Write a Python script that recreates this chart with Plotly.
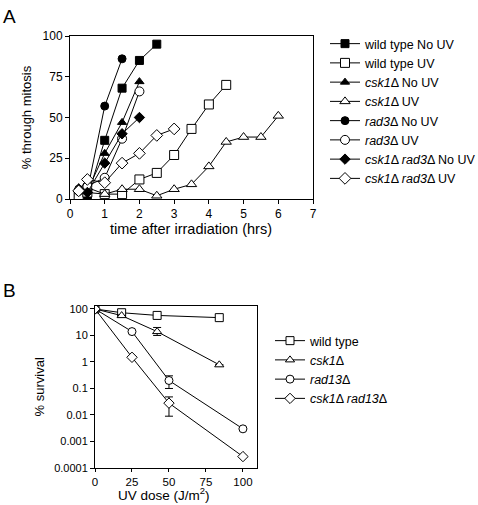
import plotly.graph_objects as go

# ---------------- Panel A data ----------------
wt_nouv_x = [0.25, 0.5, 1, 1.5, 2, 2.5]
wt_nouv_y = [4, 1, 36, 68, 85, 95]
wt_uv_x = [0.25, 0.5, 1, 1.5, 2, 2.5, 3, 3.5, 4, 4.5]
wt_uv_y = [2, 4, 3, 3, 12, 16, 27, 43, 58, 70]
csk1_nouv_x = [0.25, 0.5, 1, 1.5, 2]
csk1_nouv_y = [7, 5, 28, 47, 72]
csk1_uv_x = [0.25, 0.5, 1, 1.5, 2, 2.5, 3, 3.5, 4, 4.5, 5, 5.5, 6]
csk1_uv_y = [6, 7, 3, 6, 6, 2, 6, 9, 20, 35, 38, 38, 51]
rad3_nouv_x = [0.25, 0.5, 1, 1.5]
rad3_nouv_y = [6, 5, 57, 86]
rad3_uv_x = [0.25, 0.5, 1, 1.5, 2]
rad3_uv_y = [5, 8, 13, 37, 66]
dbl_nouv_x = [0.25, 0.5, 1, 1.5, 2]
dbl_nouv_y = [5, 4, 22, 40, 50]
dbl_uv_x = [0.25, 0.5, 1, 1.5, 2, 2.5, 3]
dbl_uv_y = [5, 12, 10, 22, 28, 39, 43]

# ---------------- Panel B data ----------------
wt_dose = [0, 18, 42, 84]
wt_surv = [100, 72, 57, 47]
csk1_dose = [0, 18, 42, 84]
csk1_surv = [100, 56, 14, 0.78]
csk1_err_plus = [0, 0, 6, 0]
csk1_err_minus = [0, 0, 4, 0]
rad13_dose = [0, 25, 50, 100]
rad13_surv = [100, 14, 0.2, 0.003]
rad13_err_plus = [0, 0, 0.1, 0]
rad13_err_minus = [0, 0, 0.1, 0]
dbl13_dose = [0, 25, 50, 100]
dbl13_surv = [100, 1.5, 0.028, 0.00027]
dbl13_err_plus = [0, 0, 0.02, 0]
dbl13_err_minus = [0, 0, 0.019, 0]

b_tickvals = [100, 10, 1, 0.1, 0.01, 0.001, 0.0001]
b_ticktext = ["100", "10", "1", "0.1", "0.01", "0.001", "0.0001"]

FONT = "Liberation Sans, Arial, Helvetica, sans-serif"
BLK = "black"

fig = go.Figure()

def add_a(x, y, name, symbol, filled):
    fig.add_trace(go.Scatter(
        x=x, y=y, name=name, mode="lines+markers",
        line=dict(color=BLK, width=1),
        marker=dict(symbol=symbol, size=9 if not filled else 8,
                    color=BLK if filled else "white",
                    line=dict(color=BLK, width=1)),
        xaxis="x", yaxis="y", legend="legend"))

add_a(wt_nouv_x, wt_nouv_y, "wild type No UV", "square", True)
add_a(wt_uv_x, wt_uv_y, "wild type UV", "square", False)
add_a(csk1_nouv_x, csk1_nouv_y, "<i>csk1</i>Δ No UV", "triangle-up", True)
add_a(csk1_uv_x, csk1_uv_y, "<i>csk1</i>Δ UV", "triangle-up", False)
add_a(rad3_nouv_x, rad3_nouv_y, "<i>rad3</i>Δ No UV", "circle", True)
add_a(rad3_uv_x, rad3_uv_y, "<i>rad3</i>Δ UV", "circle", False)
add_a(dbl_nouv_x, dbl_nouv_y, "<i>csk1</i>Δ <i>rad3</i>Δ No UV", "diamond", True)
add_a(dbl_uv_x, dbl_uv_y, "<i>csk1</i>Δ <i>rad3</i>Δ UV", "diamond", False)

def add_b(x, y, name, symbol, ep=None, em=None):
    err = None
    if ep is not None:
        err = dict(type="data", symmetric=False, array=ep, arrayminus=em,
                   color=BLK, thickness=1, width=4)
    fig.add_trace(go.Scatter(
        x=x, y=y, name=name, mode="lines+markers",
        line=dict(color=BLK, width=1),
        marker=dict(symbol=symbol, size=8, color="white",
                    line=dict(color=BLK, width=1)),
        error_y=err,
        xaxis="x2", yaxis="y2", legend="legend2"))

add_b(wt_dose, wt_surv, "wild type", "square")
add_b(csk1_dose, csk1_surv, "<i>csk1</i>Δ", "triangle-up", csk1_err_plus, csk1_err_minus)
add_b(rad13_dose, rad13_surv, "<i>rad13</i>Δ", "circle", rad13_err_plus, rad13_err_minus)
add_b(dbl13_dose, dbl13_surv, "<i>csk1</i>Δ <i>rad13</i>Δ", "diamond", dbl13_err_plus, dbl13_err_minus)

W, H = 478, 505
def px(v): return v / W
def py(v): return 1 - v / H

def axis_common(fs, tl=4):
    return dict(showline=True, linecolor=BLK, linewidth=1, mirror=True,
                ticks="outside", ticklen=tl, tickcolor=BLK, showgrid=False,
                zeroline=False, automargin=False,
                tickfont=dict(size=fs, color=BLK, family=FONT))

fig.update_layout(
    width=W, height=H, margin=dict(l=0, r=0, t=0, b=0, autoexpand=False),
    paper_bgcolor="white", plot_bgcolor="white",
    font=dict(family=FONT, color=BLK, size=12),
    xaxis=dict(domain=[px(70), px(313)], range=[0, 7], tickvals=list(range(0, 8)),
               anchor="y", **axis_common(12)),
    yaxis=dict(domain=[py(199), py(36)], range=[0, 100], tickvals=[0, 25, 50, 75, 100],
               title=dict(text="% through mitosis", font=dict(size=13), standoff=8),
               anchor="x", **axis_common(12)),
    xaxis2=dict(domain=[px(95), px(257)], range=[0, 109.5], tickvals=[0, 25, 50, 75, 100],
                anchor="y2", **axis_common(11.5, 3)),
    yaxis2=dict(domain=[py(468), py(305.5)], type="log", range=[-4, 2.13],
                tickvals=b_tickvals, ticktext=b_ticktext,
                title=dict(text="% survival", font=dict(size=13), standoff=6),
                anchor="x2", **axis_common(11)),
    legend=dict(x=px(325), y=py(29), xanchor="left", yanchor="top",
                font=dict(size=12.5, family=FONT), bgcolor="rgba(0,0,0,0)",
                tracegroupgap=0, itemwidth=30),
    legend2=dict(x=px(270), y=py(326), xanchor="left", yanchor="top",
                 font=dict(size=12.5, family=FONT), bgcolor="rgba(0,0,0,0)",
                 tracegroupgap=0, itemwidth=30),
    annotations=[
        dict(text="A", x=px(1), y=py(4), xref="paper", yref="paper",
             xanchor="left", yanchor="top", showarrow=False, font=dict(size=19)),
        dict(text="B", x=px(1), y=py(278), xref="paper", yref="paper",
             xanchor="left", yanchor="top", showarrow=False, font=dict(size=19)),
        dict(text="time after irradiation (hrs)", x=px(191), y=py(229),
             xref="paper", yref="paper", xanchor="center", yanchor="middle",
             showarrow=False, font=dict(size=14.5)),
        dict(text="UV dose (J/m<sup>2</sup>)", x=px(164), y=py(505),
             xref="paper", yref="paper", xanchor="center", yanchor="bottom",
             showarrow=False, font=dict(size=13.5)),
    ],
)

fig.write_html("out.html", config={"displayModeBar": False},
               post_script="document.body.style.margin='0px';")
